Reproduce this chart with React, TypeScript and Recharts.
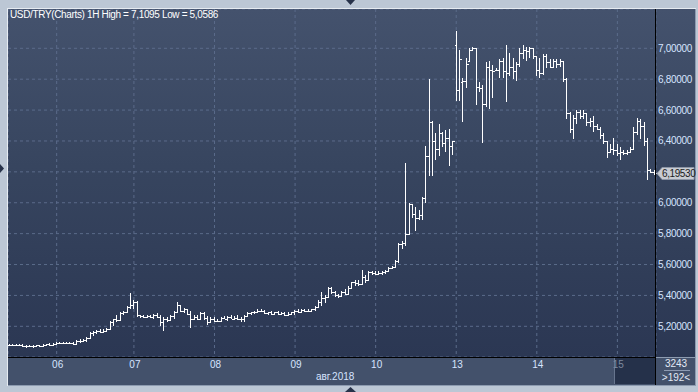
import React from 'react';
import { ComposedChart, Bar, XAxis, YAxis, CartesianGrid, ReferenceLine } from 'recharts';

const symbol = 'USD/TRY(Charts) 1H';
const dayTicks = [14, 37, 61, 85, 109, 133, 157, 181];
const dayLabels = ['06', '07', '08', '09', '10', '13', '14', '15'];
const monthLabel = 'авг.2018';
const priceTicks = [5.2, 5.4, 5.6, 5.8, 6.0, 6.2, 6.4, 6.6, 6.8, 7.0];
const infoTop = '3243';
const infoBottom = '>192<';

const opens = [
  5.08, 5.08, 5.08, 5.08, 5.078, 5.07, 5.075, 5.075, 5.07, 5.078, 5.07, 5.08, 5.085, 5.08,
  5.085, 5.095, 5.095, 5.09, 5.095, 5.09, 5.085, 5.105, 5.105, 5.11, 5.125, 5.155, 5.16, 5.17, 5.165, 5.17, 5.185, 5.23, 5.245, 5.24, 5.285, 5.29, 5.325,
  5.34, 5.36, 5.27, 5.265, 5.26, 5.265, 5.26, 5.27, 5.26, 5.23, 5.25, 5.24, 5.265, 5.29, 5.335, 5.3, 5.31, 5.28, 5.245, 5.26, 5.25, 5.285, 5.255, 5.23,
  5.25, 5.235, 5.235, 5.255, 5.25, 5.26, 5.25, 5.255, 5.245, 5.25, 5.265, 5.285, 5.29, 5.295, 5.3, 5.3, 5.285, 5.29, 5.28, 5.29, 5.28, 5.285, 5.275, 5.28,
  5.29, 5.3, 5.29, 5.305, 5.3, 5.3, 5.31, 5.325, 5.36, 5.38, 5.39, 5.45, 5.42, 5.4, 5.395, 5.42, 5.41, 5.45, 5.485, 5.48, 5.475, 5.52, 5.5, 5.55,
  5.545, 5.54, 5.545, 5.55, 5.56, 5.58, 5.585, 5.62, 5.73, 5.74, 5.8, 5.99, 5.93, 5.9, 5.92, 6.03, 6.3, 6.52, 6.4, 6.35, 6.45, 6.39, 6.42, 6.37,
  7.02, 6.73, 6.78, 6.79, 6.92, 6.99, 7.0, 6.75, 6.74, 6.64, 6.88, 6.86, 6.86, 6.86, 6.92, 6.85, 6.84, 6.88, 6.85, 6.9, 6.97, 6.99, 6.98, 7.0,
  6.95, 6.86, 6.84, 6.95, 6.91, 6.88, 6.92, 6.9, 6.92, 6.8, 6.58, 6.48, 6.55, 6.59, 6.56, 6.58, 6.52, 6.53, 6.5, 6.48, 6.44, 6.4, 6.33, 6.35,
  6.34, 6.32, 6.33, 6.32, 6.33, 6.35, 6.46, 6.53, 6.5, 6.4, 6.21, 6.2,
];
const highs = [
  5.085, 5.085, 5.085, 5.085, 5.085, 5.08, 5.08, 5.08, 5.08, 5.082, 5.085, 5.088, 5.09, 5.09,
  5.1, 5.1, 5.1, 5.1, 5.1, 5.098, 5.11, 5.115, 5.12, 5.13, 5.16, 5.17, 5.175, 5.18, 5.18, 5.19, 5.235, 5.25, 5.27, 5.29, 5.3, 5.33, 5.415,
  5.37, 5.365, 5.275, 5.275, 5.27, 5.275, 5.28, 5.285, 5.275, 5.26, 5.26, 5.27, 5.3, 5.36, 5.34, 5.32, 5.315, 5.3, 5.27, 5.27, 5.29, 5.29, 5.265, 5.26,
  5.26, 5.245, 5.26, 5.265, 5.265, 5.27, 5.265, 5.27, 5.26, 5.27, 5.29, 5.295, 5.3, 5.31, 5.31, 5.305, 5.295, 5.3, 5.295, 5.3, 5.29, 5.29, 5.29, 5.295,
  5.305, 5.31, 5.31, 5.315, 5.31, 5.315, 5.33, 5.37, 5.42, 5.4, 5.455, 5.455, 5.43, 5.41, 5.43, 5.44, 5.46, 5.49, 5.5, 5.5, 5.565, 5.535, 5.555, 5.56,
  5.555, 5.555, 5.555, 5.565, 5.585, 5.59, 5.63, 5.74, 5.75, 6.26, 6.0, 5.995, 5.97, 5.95, 6.04, 6.37, 6.8, 6.53, 6.45, 6.51, 6.46, 6.47, 6.48, 6.4,
  7.1095, 6.99, 6.81, 6.94, 7.0, 7.01, 7.0, 6.78, 6.76, 6.91, 6.92, 6.89, 6.87, 6.93, 6.94, 7.02, 6.97, 6.94, 6.91, 7.0, 7.02, 7.01, 7.01, 7.0,
  6.95, 6.94, 6.96, 6.96, 6.93, 6.93, 6.93, 6.93, 6.92, 6.81, 6.59, 6.57, 6.6, 6.6, 6.6, 6.58, 6.55, 6.56, 6.51, 6.49, 6.45, 6.4, 6.38, 6.42,
  6.38, 6.36, 6.34, 6.34, 6.36, 6.49, 6.55, 6.54, 6.52, 6.42, 6.22, 6.21,
];
const lows = [
  5.07, 5.07, 5.07, 5.07, 5.065, 5.0586, 5.065, 5.06, 5.065, 5.065, 5.065, 5.075, 5.075, 5.07,
  5.08, 5.085, 5.085, 5.085, 5.085, 5.08, 5.08, 5.095, 5.1, 5.1, 5.12, 5.14, 5.15, 5.155, 5.155, 5.16, 5.18, 5.2, 5.225, 5.235, 5.27, 5.285, 5.31,
  5.31, 5.26, 5.255, 5.255, 5.255, 5.255, 5.25, 5.255, 5.2, 5.17, 5.23, 5.235, 5.25, 5.285, 5.29, 5.285, 5.27, 5.19, 5.24, 5.24, 5.245, 5.24, 5.21, 5.22,
  5.23, 5.225, 5.23, 5.245, 5.235, 5.245, 5.24, 5.24, 5.225, 5.23, 5.26, 5.27, 5.28, 5.285, 5.29, 5.28, 5.275, 5.275, 5.27, 5.275, 5.27, 5.265, 5.265, 5.27,
  5.27, 5.285, 5.285, 5.29, 5.29, 5.295, 5.3, 5.32, 5.33, 5.35, 5.385, 5.41, 5.39, 5.38, 5.39, 5.4, 5.405, 5.445, 5.46, 5.46, 5.47, 5.48, 5.495, 5.53,
  5.53, 5.53, 5.535, 5.54, 5.555, 5.57, 5.58, 5.61, 5.7, 5.72, 5.79, 5.9, 5.82, 5.89, 5.89, 6.0, 6.17, 6.17, 6.28, 6.3, 6.36, 6.33, 6.24, 6.31,
  6.66, 6.66, 6.52, 6.74, 6.92, 6.98, 6.63, 6.72, 6.39, 6.62, 6.61, 6.68, 6.85, 6.81, 6.81, 6.65, 6.82, 6.8, 6.79, 6.88, 6.93, 6.92, 6.94, 6.93,
  6.82, 6.81, 6.83, 6.87, 6.87, 6.87, 6.87, 6.88, 6.78, 6.54, 6.45, 6.41, 6.51, 6.54, 6.54, 6.5, 6.49, 6.46, 6.47, 6.41, 6.38, 6.29, 6.32, 6.31,
  6.3, 6.28, 6.31, 6.31, 6.32, 6.34, 6.44, 6.41, 6.37, 6.15, 6.19, 6.18,
];
const closes = [
  5.08, 5.08, 5.08, 5.078, 5.07, 5.075, 5.075, 5.07, 5.078, 5.07, 5.08, 5.085, 5.08, 5.085,
  5.095, 5.095, 5.09, 5.095, 5.09, 5.085, 5.105, 5.105, 5.11, 5.125, 5.155, 5.16, 5.17, 5.165, 5.17, 5.185, 5.23, 5.245, 5.24, 5.285, 5.29, 5.325, 5.34,
  5.36, 5.27, 5.265, 5.26, 5.265, 5.26, 5.27, 5.26, 5.23, 5.25, 5.24, 5.265, 5.29, 5.335, 5.3, 5.31, 5.28, 5.245, 5.26, 5.25, 5.285, 5.255, 5.23, 5.25,
  5.235, 5.235, 5.255, 5.25, 5.26, 5.25, 5.255, 5.245, 5.25, 5.265, 5.285, 5.29, 5.295, 5.3, 5.3, 5.285, 5.29, 5.28, 5.29, 5.28, 5.285, 5.275, 5.28, 5.29,
  5.3, 5.29, 5.305, 5.3, 5.3, 5.31, 5.325, 5.36, 5.38, 5.39, 5.45, 5.42, 5.4, 5.395, 5.42, 5.41, 5.45, 5.485, 5.48, 5.475, 5.52, 5.5, 5.55, 5.545,
  5.54, 5.545, 5.55, 5.56, 5.58, 5.585, 5.62, 5.73, 5.74, 5.8, 5.99, 5.93, 5.9, 5.92, 6.03, 6.3, 6.52, 6.4, 6.35, 6.45, 6.39, 6.42, 6.37, 6.4,
  6.73, 6.93, 6.79, 6.9, 6.99, 7.0, 6.75, 6.74, 6.64, 6.88, 6.86, 6.85, 6.86, 6.92, 6.85, 6.84, 6.88, 6.85, 6.9, 6.97, 6.99, 6.98, 7.0, 6.95,
  6.86, 6.84, 6.95, 6.91, 6.88, 6.92, 6.9, 6.92, 6.8, 6.58, 6.48, 6.55, 6.59, 6.56, 6.58, 6.52, 6.53, 6.5, 6.48, 6.44, 6.4, 6.33, 6.35, 6.34,
  6.32, 6.33, 6.32, 6.33, 6.35, 6.46, 6.53, 6.5, 6.4, 6.21, 6.2, 6.1953,
];

const data = opens.map((o, i) => ({
  i,
  open: o,
  high: highs[i],
  low: lows[i],
  close: closes[i],
  range: [lows[i], highs[i]],
}));

const fmt = (v: number, d: number) => v.toFixed(d).replace('.', ',');
const hi = Math.max(...highs);
const lo = Math.min(...lows);
const lastClose = closes[closes.length - 1];

const FONT = '"Liberation Sans", Arial, sans-serif';
const LABEL = '#d6e4ff';

const OhlcShape = (props: any) => {
  const { x, y, width, height, payload } = props;
  if (x == null || y == null || !payload) return null;
  const top = Math.min(y, y + height);
  const bot = Math.max(y, y + height);
  const span = payload.high - payload.low;
  const py = (v: number) => (span > 0 ? top + ((payload.high - v) / span) * (bot - top) : top);
  const cx = Math.floor(x + width / 2) + 0.5;
  const yo = Math.round(py(payload.open)) + 0.5;
  const yc = Math.round(py(payload.close)) + 0.5;
  return (
    <g stroke="#ffffff" strokeWidth={1} shapeRendering="crispEdges">
      <line x1={cx} x2={cx} y1={Math.round(top)} y2={Math.max(Math.round(bot), Math.round(top) + 1)} />
      <line x1={cx - 2} x2={cx} y1={yo} y2={yo} />
      <line x1={cx} x2={cx + 2} y1={yc} y2={yc} />
    </g>
  );
};

const YTick = (props: any) => {
  const { x, y, payload } = props;
  // the last-price tag covers the tick label that sits under it
  if (Math.abs(payload.value - lastClose) < 0.06) return null;
  return (
    <text x={x} y={y} dy="0.35em" fill={LABEL} fontSize={10} fontFamily={FONT} textAnchor="start" style={{ letterSpacing: '-0.3px' }}>
      {fmt(payload.value, 5)}
    </text>
  );
};

const XTick = (props: any) => {
  const { x, y, payload } = props;
  const idx = dayTicks.indexOf(payload.value);
  return (
    <text x={x + 1} y={y} dy="0.71em" fill={idx === dayTicks.length - 1 ? '#7d899e' : LABEL} fontSize={10} fontFamily={FONT} textAnchor="middle">
      {dayLabels[idx]}
    </text>
  );
};

const PriceTag = (props: any) => {
  const vb = props.viewBox || {};
  const x = (vb.x || 0) + (vb.width || 0) + 1;
  const y = Math.round(vb.y || 0) + 0.5;
  return (
    <g>
      <path
        d={`M${x} ${y} L${x + 5} ${y - 6} L${x + 37} ${y - 6} L${x + 37} ${y + 6} L${x + 5} ${y + 6} Z`}
        fill="#c8ccd3"
        stroke="#8d96a6"
        strokeWidth={1}
      />
      <text x={x + 5} y={y} dy="0.35em" fill="#1b1b1b" fontSize={10} fontFamily={FONT} style={{ letterSpacing: '-0.4px' }}>
        {fmt(lastClose, 5)}
      </text>
    </g>
  );
};

export default function App() {
  const grad = 'linear-gradient(to bottom, #44526d 0%, #37455f 45%, #2b3753 100%)';
  return (
    <div
      style={{
        position: 'absolute',
        left: 0,
        top: 0,
        width: 698,
        height: 392,
        background: '#bcc7d5',
        overflow: 'hidden',
        fontFamily: FONT,
      }}
    >
      <div style={{ position: 'absolute', left: 7, top: 8, width: 689, height: 378, background: '#e6ebf1' }} />
      <div style={{ position: 'absolute', left: 8, top: 9, width: 688, height: 377, background: '#8d9bb0' }} />
      <div style={{ position: 'absolute', left: 8, top: 9, width: 648, height: 348, background: grad }} />
      <div style={{ position: 'absolute', left: 656, top: 9, width: 39, height: 348, background: grad }} />
      <div style={{ position: 'absolute', left: 8, top: 358, width: 687, height: 27, background: '#43516b' }} />
      <div style={{ position: 'absolute', left: 614, top: 358, width: 41, height: 26, background: '#25314a', borderLeft: '1px solid #67758e' }} />

      <div style={{ position: 'absolute', left: 8, top: 9 }}>
        <ComposedChart
          width={688}
          height={376}
          data={data}
          margin={{ top: 0, right: 0, bottom: 0, left: 0 }}
          barCategoryGap={0}
          barGap={0}
        >
          <CartesianGrid stroke="#5b6b8a" strokeDasharray="3 3" />
          <XAxis
            dataKey="i"
            ticks={dayTicks}
            interval={0}
            tick={<XTick />}
            axisLine={false}
            tickLine={false}
            tickSize={0}
            tickMargin={4}
            height={28}
          />
          <YAxis
            orientation="right"
            type="number"
            domain={[5.0012, 7.2545]}
            allowDataOverflow
            ticks={priceTicks}
            interval={0}
            tick={<YTick />}
            axisLine={false}
            tickLine={false}
            tickSize={0}
            tickMargin={2}
            width={40}
          />
          <Bar dataKey="range" shape={<OhlcShape />} isAnimationActive={false} />
          <ReferenceLine y={lastClose} stroke="none" ifOverflow="visible" label={<PriceTag />} />
        </ComposedChart>
      </div>

      <div style={{ position: 'absolute', left: 8, top: 357, width: 648, height: 1, background: '#000' }} />
      <div style={{ position: 'absolute', left: 655, top: 9, width: 1, height: 376, background: '#000' }} />

      <div style={{ position: 'absolute', left: 10, top: 9, fontSize: 10, lineHeight: '12px', color: '#ffffff', letterSpacing: '-0.35px', whiteSpace: 'nowrap' }}>
        {`${symbol} High = ${fmt(hi, 4)} Low = ${fmt(lo, 4)}`}
      </div>
      <div style={{ position: 'absolute', left: 316, top: 371, fontSize: 10, lineHeight: '12px', color: LABEL, whiteSpace: 'nowrap' }}>
        {monthLabel}
      </div>
      <div style={{ position: 'absolute', left: 657, top: 358, width: 38, fontSize: 10, lineHeight: '12px', color: '#e2e9f5', textAlign: 'center' }}>
        {infoTop}
      </div>
      <div style={{ position: 'absolute', left: 664, top: 370, width: 26, height: 1, background: '#8e9bb2' }} />
      <div style={{ position: 'absolute', left: 657, top: 372, width: 38, fontSize: 10, lineHeight: '12px', color: '#e2e9f5', textAlign: 'center' }}>
        {infoBottom}
      </div>

      <svg width={698} height={392} style={{ position: 'absolute', left: 0, top: 0, pointerEvents: 'none' }}>
        <path d="M346 0 L355 0 L350.5 5 Z" fill="#27324a" />
        <path d="M345 392 L356 392 L350.5 387 Z" fill="#27324a" />
        <path d="M0 164 L0 173 L4 168.5 Z" fill="#27324a" />
      </svg>
    </div>
  );
}
